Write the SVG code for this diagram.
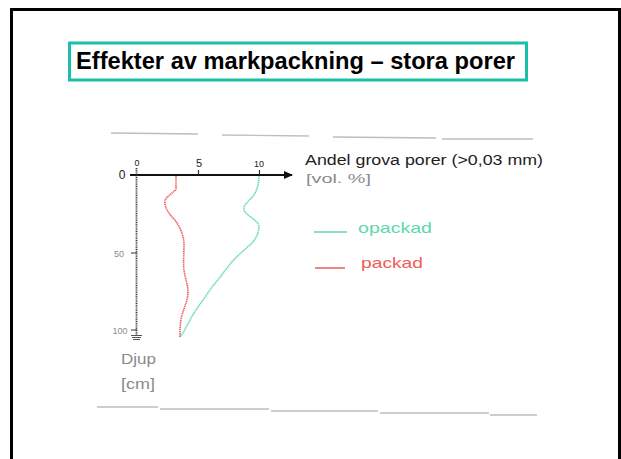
<svg xmlns="http://www.w3.org/2000/svg" width="621" height="459" viewBox="0 0 621 459">
<style>
.hand{font-family:"Liberation Sans","DejaVu Sans",sans-serif;fill:#222}
.gray{font-family:"Liberation Sans","DejaVu Sans",sans-serif;fill:#8a8a8a}
.scan{stroke:#888;stroke-width:1.3;fill:none;opacity:0.55}
.green{stroke:#5fd8a8;stroke-width:1.6;fill:none;stroke-dasharray:1.2 0.6}
.red{stroke:#f05a5a;stroke-width:1.6;fill:none;stroke-dasharray:1.2 0.6}
</style>
<defs>
<marker id="arr" markerWidth="10" markerHeight="10" refX="8" refY="5" orient="auto" markerUnits="userSpaceOnUse">
<path d="M0,1 L9,5 L0,9 Z" fill="#111"/>
</marker>
</defs>
<rect x="0" y="0" width="621" height="459" fill="#fff"/>
<rect id="frame" x="11.5" y="9.5" width="608" height="470" fill="none" stroke="#000" stroke-width="3"/>
<g id="title">
<rect x="69.5" y="43" width="457" height="37" fill="#fff" stroke="#1bbfa8" stroke-width="3"/>
<text x="76" y="68.5" font-family="Liberation Sans, Arial, sans-serif" font-weight="bold" font-size="23" fill="#000" textLength="439" lengthAdjust="spacingAndGlyphs">Effekter av markpackning – stora porer</text>
</g>
<g id="scanlines">
<path class="scan" d="M111,133 L198,134 M222,135 L309,136 M333,137 L436,138 M442,139 L533,139"/>
<path class="scan" d="M97,407 L158,407 M160,409 L269,409 M271,411 L378,411 M380,413 L489,413 M490,415 L537,415"/>
</g>
<g id="connectors">
<line x1="130" y1="175" x2="292" y2="175" stroke="#111" stroke-width="2" marker-end="url(#arr)"/>
<line x1="136.5" y1="168" x2="136.5" y2="335" stroke="#333" stroke-width="1.8" stroke-dasharray="1 0.8"/>
<path d="M198.5,170 V175 M259.5,170 V175 M131,253 H137 M131,330 H137" stroke="#333" stroke-width="1.2"/>
<path d="M131,335.5 H142 M132,337.5 H141 M133,339.5 H140" stroke="#555" stroke-width="1.2"/>
</g>
<g id="axis-labels">
<text class="hand" x="137" y="166" font-size="9" text-anchor="middle">0</text>
<text class="hand" x="199" y="167" font-size="11" text-anchor="middle">5</text>
<text class="hand" x="259" y="167" font-size="9" text-anchor="middle">10</text>
<text class="hand" x="122" y="179" font-size="12" text-anchor="middle">0</text>
<text class="gray" x="119" y="257" font-size="9" text-anchor="middle">50</text>
<text class="gray" x="120" y="334" font-size="9" text-anchor="middle">100</text>
<text class="gray" x="121" y="364" font-size="15" textLength="35" lengthAdjust="spacingAndGlyphs">Djup</text>
<text class="gray" x="121" y="389" font-size="15" textLength="34" lengthAdjust="spacingAndGlyphs">[cm]</text>
<text class="hand" x="305" y="165" font-size="14" textLength="238" lengthAdjust="spacingAndGlyphs">Andel grova porer (&gt;0,03 mm)</text>
<text class="gray" x="306" y="183" font-size="13" textLength="65" lengthAdjust="spacingAndGlyphs">[vol. %]</text>
</g>
<g id="curve-opackad">
<path class="green" d="M259,176 C259,184 257,190 254,195 C249,201 243,205 244,210 C245,215 258,220 259,226 C259,234 255,240 250,245 C242,252 236,257 230,264 C224,272 218,280 212,287 C206,296 199,305 194,313 C189,321 186,329 180,337"/>
</g>
<g id="curve-packad">
<path class="red" d="M176,176 L176,189 C175,192 166,196 165,201 C164,206 168,213 174,219 C180,226 184,236 184,245 C184,255 183,262 184,270 C185,278 188,285 188,292 C188,300 184,308 182,315 C180,322 180,330 180,337"/>
</g>
<g id="legend">
<line x1="314" y1="232" x2="347" y2="232" stroke="#5fd8a8" stroke-width="1.5"/>
<text x="358" y="233" font-family="Liberation Sans, sans-serif" font-size="15" fill="#5fd8a8" textLength="74" lengthAdjust="spacingAndGlyphs">opackad</text>
<line x1="315" y1="268" x2="345" y2="268" stroke="#f05a5a" stroke-width="1.5"/>
<text x="361" y="268" font-family="Liberation Sans, sans-serif" font-size="15" fill="#f05a5a" textLength="62" lengthAdjust="spacingAndGlyphs">packad</text>
</g>
</svg>
